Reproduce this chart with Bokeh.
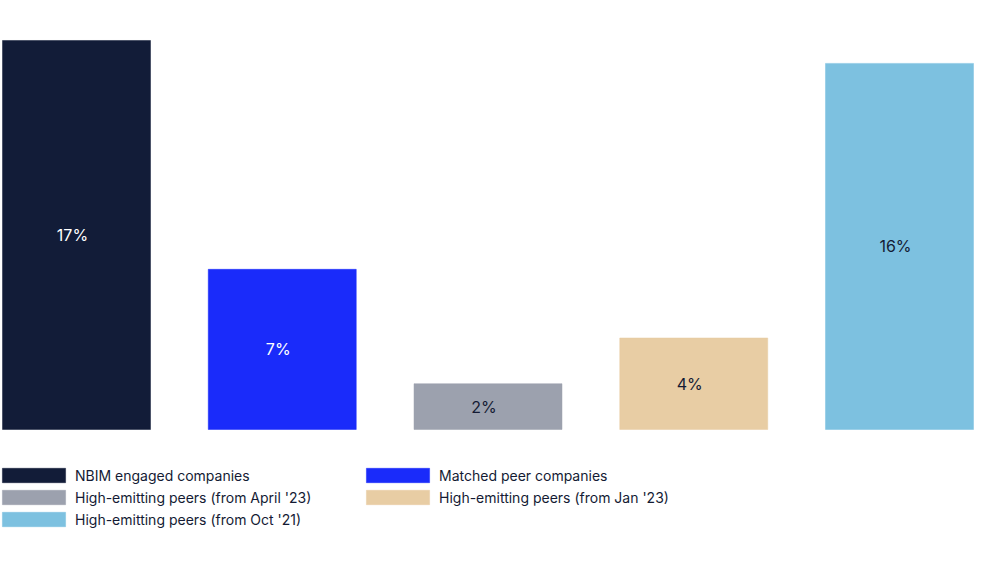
from bokeh.plotting import figure
from bokeh.models import ColumnDataSource, Range1d, Legend, LegendItem
from bokeh.embed import file_html
from bokeh.resources import INLINE
from bokeh.core.properties import value

categories = ["NBIM engaged companies", "Matched peer companies",
              "High-emitting peers (from April '23)", "High-emitting peers (from Jan '23)",
              "High-emitting peers (from Oct '21)"]
values = [17, 7, 2, 4, 16]
labels = ["17%", "7%", "2%", "4%", "16%"]
colors = ["#121C38", "#1A2BFA", "#9CA1AE", "#E8CDA4", "#7DC1E0"]
label_colors = ["#FFFFFF", "#FFFFFF", "#141B34", "#141B34", "#141B34"]

FONT = "Inter"
DARK = "#141B34"

src = ColumnDataSource(dict(
    x=list(range(len(values))),
    top=values,
    ymid=[v / 2 for v in values],
    name=categories,
    label=labels,
    color=colors,
    lcolor=label_colors,
))

p = figure(width=980, height=560, output_backend="svg", toolbar_location=None,
           x_range=Range1d(-0.3694, 4.3937), y_range=Range1d(-5.725, 18.748),
           min_border=0, min_border_left=0, min_border_right=0,
           min_border_top=0, min_border_bottom=0)
p.axis.visible = False
p.xgrid.visible = False
p.ygrid.visible = False
p.outline_line_color = None
p.background_fill_color = "white"
p.border_fill_color = "white"

r = p.vbar(x="x", top="top", bottom=0, width=0.7193, source=src,
           fill_color="color", line_color="color", line_width=0.5)

p.text(x="x", y="ymid", text="label", source=src, text_color="lcolor",
       text_align="center", text_baseline="middle", x_offset=-4,
       text_font=value(FONT), text_font_size="16px")

items = [LegendItem(label=categories[i], renderers=[r], index=i) for i in range(len(categories))]
legend = Legend(items=items, location=(-6, 32), orientation="horizontal", ncols=2,
                glyph_width=79, glyph_height=18, label_height=16, label_width=279,
                label_standoff=2, spacing=4, padding=0, margin=0,
                border_line_color=None, background_fill_alpha=0,
                label_text_font=FONT, label_text_font_size="14px",
                label_text_color=DARK)
p.add_layout(legend, "center")

open("out.html", "w").write(file_html(p, INLINE))
